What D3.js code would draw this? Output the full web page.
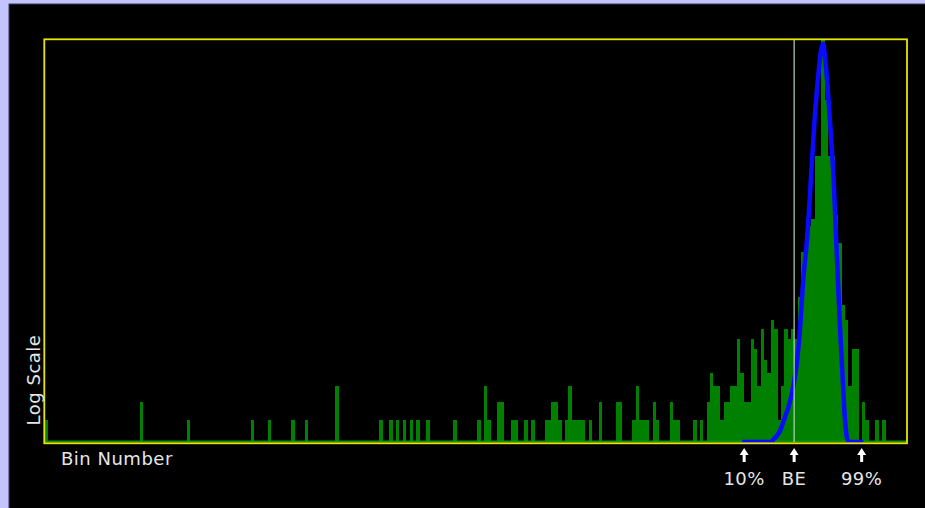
<!DOCTYPE html>
<html>
<head>
<meta charset="utf-8">
<script src="https://cdnjs.cloudflare.com/ajax/libs/d3/7.8.5/d3.min.js"></script>
<style>
  html, body { margin: 0; padding: 0; background: #c4c4fc; overflow: hidden; }
  text { font-family: 'DejaVu Sans', sans-serif; fill: #e6e6e6; letter-spacing: 0.5px; }
</style>
</head>
<body>
<div id="chart"></div>
<script>
// histogram: 255 bins, only non-empty bins listed
let numBins = 255
let histBins = [0, 28, 42, 61, 66, 73, 77, 86, 99, 102, 104, 106, 108, 110, 113, 121, 128, 130, 131, 134, 135,
  138, 139, 142, 144, 148, 149, 150, 151, 152, 154, 155, 156, 157, 158, 159, 161, 164, 169, 170, 174, 175,
  176, 177, 178, 180, 181, 185, 186, 187, 192, 194, 196, 197, 198, 199, 200, 201, 202, 203, 204, 205, 206,
  207, 208, 209, 210, 211, 212, 213, 214, 215, 216, 217, 218, 219, 220, 221, 222, 223, 224, 225, 226, 227,
  228, 229, 230, 231, 232, 233, 234, 235, 236, 237, 238, 239, 240, 242, 243, 246, 248]
let histCounts = [1, 2, 1, 1, 1, 1, 1, 3, 1, 1, 1, 1, 1, 1, 1, 1, 1, 3, 1, 2, 2,
  1, 1, 1, 1, 1, 1, 2, 2, 1, 1, 3, 1, 1, 1, 1, 1, 2, 2, 2, 1, 3,
  1, 1, 1, 2, 1, 2, 1, 1, 1, 1, 2, 4, 3, 3, 1, 2, 2, 3, 3, 7, 4,
  2, 2, 7, 6, 3, 8, 5, 4, 9, 8, 1, 3, 8, 7, 8, 7, 12, 20, 24, 26, 28,
  51, 51, 145, 85, 51, 51, 29, 22, 11, 9, 3, 6, 6, 2, 1, 1, 1]

// fitted curve (blue), bin position and count
let fitBins = [206.5, 214.75, 216.2, 217.7, 219.2, 220.2, 221.6, 222.7, 223.6, 224.6, 225.9, 226.9, 227.9,
  228.9, 229.9, 230.5, 231.0, 231.8, 232.7, 233.6, 234.3, 235.0, 235.6, 236.3, 236.9, 237.5, 238.1, 242.4]
let fitCounts = [0, 0, 0.17, 0.49, 1.18, 1.72, 2.96, 4.76, 7.9, 14.7, 24.6, 42.1, 69.3,
  101, 132.9, 140.3, 127.2, 96.3, 65.1, 40.9, 23.8, 13.1, 7.36, 3.45, 1.18, 0.22, 0, 0]

// markers below the axis
let markerLabels = ['10%', 'BE', '99%']
let markerBins = [207.1, 221.9, 241.9]
let beBin = 221.9
let yMax = 145

let width = 925,
  height = 508,
  plot = { left: 44.3, top: 39.3, right: 907, bottom: 443.3 },
  baseline = 442,
  topY = 40

let x = d3.scaleLinear()
  .domain([0, numBins])
  .range([45, 45 + numBins * 3.376])

let y = d3.scaleSymlog()
  .constant(5)
  .domain([0, yMax])
  .range([baseline, topY])

let svg = d3.select('#chart').append('svg')
  .attr('width', width)
  .attr('height', height)

// black panel
svg.append('rect')
  .attr('x', 9).attr('y', 4)
  .attr('width', width).attr('height', height)
  .attr('fill', '#000')
  .attr('stroke', '#3a3a5a')
  .attr('stroke-width', 1)

let hist = histBins.map((b, i) => ({ bin: b, count: histCounts[i] }))

svg.append('g').selectAll('rect')
  .data(hist)
  .enter().append('rect')
  .attr('x', d => x(d.bin))
  .attr('y', d => y(d.count))
  .attr('width', d => x(d.bin + 1) - x(d.bin))
  .attr('height', d => y(0) - y(d.count))
  .attr('fill', '#008000')
  .attr('shape-rendering', 'crispEdges')

// green baseline for empty bins
svg.append('rect')
  .attr('x', x(0))
  .attr('y', baseline - 1.5)
  .attr('width', plot.right - x(0))
  .attr('height', 2)
  .attr('fill', '#129212')

// fit curve
let fit = fitBins.map((b, i) => [b, fitCounts[i]])
svg.append('path')
  .datum(fit)
  .attr('d', d3.line()
    .x(d => x(d[0]))
    .y(d => y(d[1]))
    .curve(d3.curveMonotoneX))
  .attr('fill', 'none')
  .attr('stroke', '#0a0aff')
  .attr('stroke-width', 4.5)

// BE line
svg.append('line')
  .attr('x1', x(beBin)).attr('x2', x(beBin))
  .attr('y1', topY).attr('y2', baseline)
  .attr('stroke', '#b4d2b4')
  .attr('stroke-width', 1.2)

// plot frame
svg.append('rect')
  .attr('x', plot.left).attr('y', plot.top)
  .attr('width', plot.right - plot.left)
  .attr('height', plot.bottom - plot.top)
  .attr('fill', 'none')
  .attr('stroke', '#e6e600')
  .attr('stroke-width', 1.8)

// arrows + labels
let markers = svg.append('g').selectAll('g')
  .data(markerLabels.map((l, i) => ({ label: l, bin: markerBins[i] })))
  .enter().append('g')
  .attr('transform', d => 'translate(' + x(d.bin) + ',0)')

markers.append('path')
  .attr('d', 'M0,448 L4.5,455 L1.5,455 L1.5,462 L-1.5,462 L-1.5,455 L-4.5,455 Z')
  .attr('fill', '#fff')

markers.append('text')
  .attr('y', 485)
  .attr('text-anchor', 'middle')
  .attr('font-size', '18px')
  .text(d => d.label)

svg.append('text')
  .attr('x', 61)
  .attr('y', 465)
  .attr('font-size', '18px')
  .text('Bin Number')

svg.append('text')
  .attr('transform', 'translate(40,380) rotate(-90)')
  .attr('text-anchor', 'middle')
  .attr('font-size', '18px')
  .text('Log Scale')
</script>
</body>
</html>
